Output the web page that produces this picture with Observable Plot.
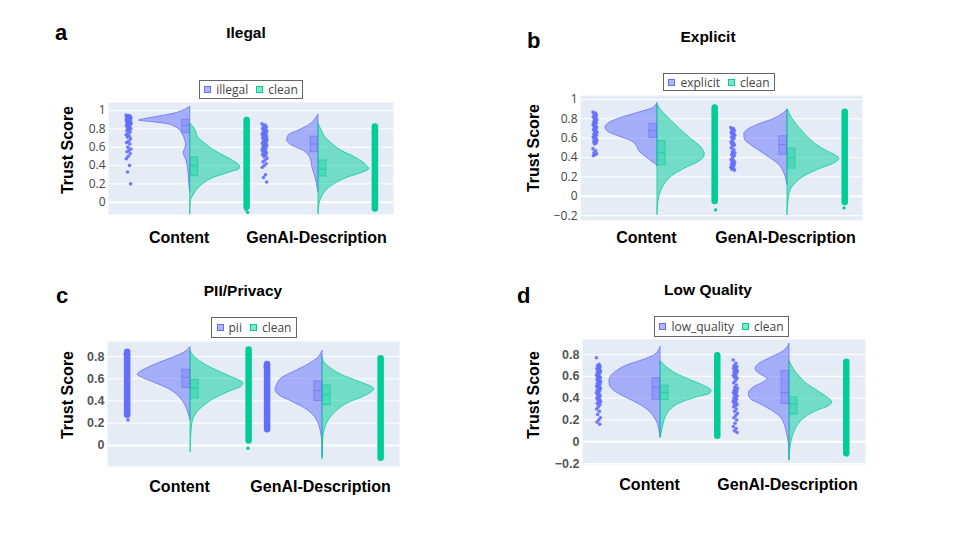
<!DOCTYPE html>
<html>
<head>
<meta charset="utf-8">
<script src="https://cdn.jsdelivr.net/npm/d3@7"></script>
<script src="https://cdn.jsdelivr.net/npm/@observablehq/plot@0.6"></script>
<style>
html, body { margin: 0; padding: 0; background: #fff; }
#page { position: relative; width: 960px; height: 540px; overflow: hidden; background: #fff; }
.panel { position: absolute; }
.legend { position: absolute; box-sizing: border-box; border: 1px solid #666; background: #fff;
  display: flex; align-items: center; justify-content: center; font: 12px "Open Sans", sans-serif; color: #444; white-space: nowrap; }
.legend .item { display: flex; align-items: center; margin: 0 4px; }
.legend .sw { width: 7px; height: 7px; box-sizing: border-box; border: 1px solid; margin-right: 5px; }
#overlay { position: absolute; left: 0; top: 0; pointer-events: none; }
</style>
</head>
<body>
<div id="page"></div>
<script>
// ---------------- data ----------------
const categories = ["Content", "GenAI-Description"];
const panelLetters = ["a", "b", "c", "d"];
const panelTitles = ["Ilegal", "Explicit", "PII/Privacy", "Low Quality"];
const flaggedNames = ["illegal", "explicit", "pii", "low_quality"];
const cleanName = "clean";
const yLabel = "Trust Score";

const yTicksA = [0, 0.2, 0.4, 0.6, 0.8, 1];
const yTicksB = [-0.2, 0, 0.2, 0.4, 0.6, 0.8, 1];
const yTicksC = [0, 0.2, 0.4, 0.6, 0.8];
const yTicksD = [-0.2, 0, 0.2, 0.4, 0.6, 0.8];

// violin half profiles: [trust score, relative density]
const violinIllegalContent = [[0.11,0],[0.15,0.01],[0.27,0.025],[0.38,0.045],[0.45,0.07],[0.5,0.11],[0.54,0.13],[0.58,0.1],[0.63,0.08],[0.68,0.1],[0.745,0.15],[0.78,0.19],[0.82,0.29],[0.855,0.48],[0.873,0.74],[0.89,1.0],[0.91,0.85],[0.927,0.68],[0.964,0.32],[1.0,0.13],[1.03,0.03],[1.04,0]];
const violinIllegalGenAI = [[0.11,0],[0.2,0.03],[0.31,0.08],[0.38,0.12],[0.455,0.14],[0.51,0.19],[0.56,0.29],[0.62,0.52],[0.67,0.61],[0.73,0.58],[0.78,0.39],[0.836,0.19],[0.89,0.08],[0.956,0]];
const violinCleanContentA = [[-0.13,0],[0.02,0.013],[0.055,0.045],[0.13,0.13],[0.2,0.26],[0.27,0.48],[0.33,0.81],[0.36,0.96],[0.39,0.97],[0.44,0.87],[0.49,0.71],[0.56,0.48],[0.64,0.29],[0.71,0.15],[0.78,0.11],[0.86,0]];
const violinCleanGenAIA = [[-0.13,0],[-0.02,0.02],[0.055,0.065],[0.13,0.16],[0.2,0.32],[0.27,0.58],[0.33,0.9],[0.36,0.99],[0.42,0.9],[0.49,0.71],[0.56,0.45],[0.64,0.26],[0.71,0.13],[0.78,0.065],[0.855,0]];

const violinExplicitContent = [[0.31,0],[0.33,0.03],[0.36,0.11],[0.414,0.24],[0.466,0.35],[0.52,0.4],[0.57,0.5],[0.62,0.75],[0.666,0.95],[0.707,1.0],[0.76,0.92],[0.81,0.69],[0.862,0.37],[0.914,0.08],[0.965,0]];
const violinExplicitGenAI = [[0.12,0],[0.19,0.03],[0.26,0.08],[0.33,0.17],[0.397,0.34],[0.466,0.53],[0.535,0.72],[0.586,0.82],[0.64,0.83],[0.69,0.75],[0.74,0.56],[0.79,0.3],[0.845,0.1],[0.896,0]];
const violinCleanContentB = [[-0.19,0],[-0.017,0.03],[0.05,0.07],[0.12,0.135],[0.207,0.28],[0.29,0.54],[0.36,0.81],[0.43,0.91],[0.5,0.85],[0.6,0.63],[0.707,0.41],[0.81,0.21],[0.88,0.085],[0.95,0]];
const violinCleanGenAIB = [[-0.19,0],[-0.05,0.02],[0.05,0.05],[0.12,0.135],[0.19,0.28],[0.276,0.6],[0.345,0.92],[0.39,1.0],[0.414,0.95],[0.466,0.76],[0.535,0.55],[0.6,0.41],[0.67,0.29],[0.74,0.18],[0.81,0.085],[0.9,0]];

const violinPiiContent = [[0.227,0],[0.258,0.02],[0.318,0.06],[0.394,0.14],[0.455,0.25],[0.515,0.44],[0.56,0.66],[0.606,0.9],[0.636,1.0],[0.65,0.98],[0.697,0.81],[0.742,0.59],[0.788,0.34],[0.833,0.125],[0.885,0]];
const violinPiiGenAI = [[-0.106,0],[0.03,0.006],[0.12,0.03],[0.212,0.09],[0.273,0.175],[0.333,0.33],[0.394,0.58],[0.455,0.83],[0.5,0.89],[0.545,0.86],[0.606,0.77],[0.667,0.52],[0.727,0.27],[0.79,0.08],[0.85,0]];
const violinCleanContentC = [[-0.06,0],[0.06,0.01],[0.18,0.03],[0.242,0.06],[0.303,0.14],[0.364,0.28],[0.424,0.47],[0.485,0.75],[0.53,0.97],[0.56,1.0],[0.59,0.9],[0.62,0.75],[0.667,0.53],[0.727,0.28],[0.79,0.09],[0.85,0]];
const violinCleanGenAIC = [[-0.12,0],[0.06,0.015],[0.167,0.06],[0.242,0.14],[0.318,0.29],[0.38,0.48],[0.44,0.79],[0.485,0.95],[0.51,0.98],[0.53,0.92],[0.576,0.67],[0.636,0.36],[0.7,0.14],[0.757,0.02],[0.8,0]];

const violinLowQualityContent = [[0.04,0],[0.1,0.02],[0.162,0.05],[0.223,0.12],[0.284,0.23],[0.346,0.42],[0.407,0.68],[0.468,0.9],[0.514,0.98],[0.56,0.99],[0.605,0.95],[0.65,0.84],[0.7,0.65],[0.74,0.39],[0.8,0.1],[0.87,0]];
const violinLowQualityGenAI = [[-0.17,0],[-0.02,0.013],[0.07,0.045],[0.162,0.1],[0.223,0.17],[0.284,0.34],[0.346,0.57],[0.39,0.75],[0.437,0.79],[0.5,0.69],[0.544,0.5],[0.575,0.43],[0.62,0.57],[0.667,0.66],[0.713,0.59],[0.774,0.34],[0.835,0.1],[0.9,0]];
const violinCleanContentD = [[0.04,0],[0.07,0.02],[0.147,0.05],[0.223,0.1],[0.284,0.18],[0.346,0.35],[0.407,0.71],[0.443,0.97],[0.468,0.99],[0.514,0.84],[0.56,0.61],[0.62,0.32],[0.68,0.13],[0.74,0]];
const violinCleanGenAID = [[-0.17,0],[-0.02,0.03],[0.07,0.08],[0.162,0.18],[0.223,0.31],[0.284,0.54],[0.33,0.78],[0.36,0.83],[0.407,0.73],[0.468,0.54],[0.53,0.34],[0.59,0.21],[0.667,0.08],[0.74,0]];

// boxes: [q1, median, q3] for Content, GenAI-Description
const boxIllegal = [[0.753,0.836,0.898],[0.545,0.636,0.716]];
const boxCleanA = [[0.284,0.40,0.49],[0.28,0.36,0.455]];
const boxExplicit = [[0.603,0.68,0.748],[0.43,0.535,0.62]];
const boxCleanB = [[0.32,0.45,0.57],[0.286,0.397,0.493]];
const boxPii = [[0.515,0.612,0.68],[0.4,0.494,0.576]];
const boxCleanC = [[0.424,0.515,0.59],[0.364,0.455,0.54]];
const boxLowQuality = [[0.385,0.5,0.584],[0.346,0.45,0.65]];
const boxCleanD = [[0.382,0.45,0.514],[0.248,0.346,0.407]];

// individual points (trust scores)
const pointsIllegalContent = [0.95,0.945,0.94,0.935,0.93,0.928,0.925,0.92,0.918,0.915,0.91,0.905,0.9,0.898,0.895,0.89,0.885,0.88,0.875,0.87,0.865,0.86,0.855,0.85,0.845,0.84,0.83,0.82,0.81,0.8,0.79,0.78,0.765,0.75,0.735,0.72,0.71,0.69,0.665,0.65,0.635,0.6,0.58,0.565,0.55,0.53,0.5,0.475,0.4,0.33,0.2];
const pointsIllegalGenAI = [0.855,0.84,0.83,0.82,0.81,0.8,0.79,0.78,0.775,0.77,0.76,0.75,0.745,0.74,0.73,0.72,0.715,0.71,0.7,0.69,0.685,0.68,0.67,0.66,0.655,0.65,0.64,0.63,0.625,0.62,0.61,0.6,0.59,0.58,0.57,0.56,0.55,0.54,0.53,0.52,0.51,0.5,0.48,0.46,0.44,0.42,0.4,0.38,0.3,0.27,0.22];
const pointsExplicitContent = [0.87,0.86,0.85,0.84,0.83,0.82,0.81,0.8,0.79,0.78,0.77,0.76,0.75,0.74,0.73,0.72,0.71,0.7,0.69,0.68,0.67,0.66,0.65,0.64,0.63,0.62,0.61,0.6,0.59,0.58,0.57,0.56,0.55,0.54,0.49,0.47,0.45,0.44,0.43,0.42];
const pointsExplicitGenAI = [0.71,0.7,0.69,0.68,0.67,0.66,0.65,0.64,0.63,0.62,0.61,0.6,0.58,0.56,0.55,0.54,0.53,0.52,0.5,0.48,0.46,0.45,0.44,0.43,0.42,0.4,0.38,0.37,0.36,0.35,0.34,0.33,0.32,0.31,0.3,0.29,0.28,0.27];
const pointsPiiContent = [0.82,0.81,0.31,0.3,0.29,0.28,0.23];
const pointsPiiGenAI = [0.71,0.7,0.18,0.17,0.16];
const pointsLowQualityContent = [0.77,0.71,0.7,0.69,0.68,0.67,0.665,0.66,0.65,0.64,0.635,0.63,0.62,0.61,0.6,0.595,0.59,0.58,0.57,0.565,0.56,0.55,0.54,0.535,0.53,0.52,0.51,0.505,0.5,0.49,0.48,0.475,0.47,0.46,0.45,0.44,0.43,0.42,0.41,0.4,0.39,0.38,0.37,0.36,0.35,0.34,0.32,0.3,0.28,0.25,0.22,0.2,0.18,0.16];
const pointsLowQualityGenAI = [0.75,0.72,0.7,0.69,0.68,0.675,0.67,0.66,0.65,0.645,0.64,0.63,0.62,0.61,0.6,0.59,0.58,0.56,0.54,0.52,0.5,0.49,0.48,0.47,0.46,0.455,0.45,0.44,0.43,0.42,0.41,0.4,0.39,0.38,0.37,0.36,0.35,0.34,0.33,0.32,0.3,0.28,0.26,0.24,0.22,0.2,0.17,0.14,0.12,0.1,0.085];

// dense point strips: [min, max] for Content, GenAI-Description
const densePii = [[0.3, 0.81], [0.17, 0.7]];
const denseCleanA = [[-0.02, 0.855], [-0.04, 0.785]];
const denseCleanB = [[-0.02, 0.88], [-0.03, 0.835]];
const denseCleanC = [[0.07, 0.83], [-0.085, 0.75]];
const denseCleanD = [[0.08, 0.76], [-0.08, 0.7]];
// sparse tail points beyond the dense clean strips
const tailCleanA = [[-0.05, -0.08, -0.11], [-0.055]];
const tailCleanB = [[-0.04, -0.06, -0.14], [-0.05, -0.12]];
const tailCleanC = [[0.05, -0.025], [0.79, -0.1]];
const tailCleanD = [[0.07], [-0.12]];

// ---------------- layout / style ----------------
const BLUE = "#636efa", GREEN = "#00cc96";
const HALF = 0.4;          // max half-width of a violin, in category units
const layout = [
  {frame: [108, 393, 102, 214], x: [-0.637, 1.585], y: [-0.134, 1.087], ticks: yTicksA, bold: false, labelDy: 28,
   ylab: [67, 150], title: [246, 33], letter: [55, 40], legend: [199, 80, 104, 19], stripW: 0.04},
  {frame: [580, 862, 95, 220], x: [-0.592, 1.577], y: [-0.25, 1.041], ticks: yTicksB, bold: false, labelDy: 22,
   ylab: [533, 148], title: [708, 37], letter: [527, 48], legend: [663, 73, 112, 18], stripW: 0.032},
  {frame: [107, 399, 341, 466], x: [-0.629, 1.583], y: [-0.189, 0.935], ticks: yTicksC, bold: true, labelDy: 25,
   ylab: [67, 395], title: [243, 291], letter: [56, 303], legend: [211, 317, 86, 21], stripW: 0.03},
  {frame: [582, 865, 339, 464], x: [-0.605, 1.589], y: [-0.209, 0.938], ticks: yTicksD, bold: true, labelDy: 25,
   ylab: [533, 395], title: [708, 290], letter: [517, 303], legend: [654, 316, 135, 21], stripW: 0.034}
];
const panels = [
  {flagV: [violinIllegalContent, violinIllegalGenAI], cleanV: [violinCleanContentA, violinCleanGenAIA],
   flagBox: boxIllegal, cleanBox: boxCleanA, flagPts: [pointsIllegalContent, pointsIllegalGenAI], flagDense: null,
   cleanDense: denseCleanA, cleanTail: tailCleanA},
  {flagV: [violinExplicitContent, violinExplicitGenAI], cleanV: [violinCleanContentB, violinCleanGenAIB],
   flagBox: boxExplicit, cleanBox: boxCleanB, flagPts: [pointsExplicitContent, pointsExplicitGenAI], flagDense: null,
   cleanDense: denseCleanB, cleanTail: tailCleanB},
  {flagV: [violinPiiContent, violinPiiGenAI], cleanV: [violinCleanContentC, violinCleanGenAIC],
   flagBox: boxPii, cleanBox: boxCleanC, flagPts: [pointsPiiContent, pointsPiiGenAI], flagDense: densePii,
   cleanDense: denseCleanC, cleanTail: tailCleanC},
  {flagV: [violinLowQualityContent, violinLowQualityGenAI], cleanV: [violinCleanContentD, violinCleanGenAID],
   flagBox: boxLowQuality, cleanBox: boxCleanD, flagPts: [pointsLowQualityContent, pointsLowQualityGenAI], flagDense: null,
   cleanDense: denseCleanD, cleanTail: tailCleanD}
];
const flagStripPos = [-0.48, 0.58];
const cleanStripPos = [0.44, 1.44];
const labelDx = [-11, -2];
const ML = 45, MR = 5, MT = 5, MB = 40;

const fmt = d => (d < 0 ? "\u2212" : "") + String(Math.abs(d));
const jit = i => ((i * 0.6180339887) % 1) - 0.5;

const page = document.getElementById("page");

panels.forEach((p, k) => {
  const L = layout[k];
  const [fx0, fx1, fy0, fy1] = L.frame;
  const marks = [
    Plot.frame({fill: "#e5ecf6", stroke: "none"}),
    Plot.gridY(L.ticks, {stroke: "#fff", strokeOpacity: 1, strokeWidth: 1}),
    Plot.ruleY([0], {stroke: "#fff", strokeWidth: 2}),
    Plot.axisY(L.ticks, {tickSize: 0, tickPadding: 3, tickFormat: fmt, label: null,
      fontSize: L.bold ? 12.5 : 12, fontWeight: L.bold ? "bold" : "normal",
      fontFamily: L.bold ? "Liberation Sans, Arial, sans-serif" : "Open Sans, sans-serif",
      fill: L.bold ? "#555" : "#444"})
  ];
  // violins + boxes
  [0, 1].forEach(c => {
    marks.push(Plot.areaX(p.flagV[c], {y: d => d[0], x1: () => c, x2: d => c - d[1] * HALF, curve: "monotone-y",
      fill: BLUE, fillOpacity: 0.5, stroke: BLUE, strokeWidth: 1, strokeOpacity: 0.75}));
  });
  [0, 1].forEach(c => {
    marks.push(Plot.areaX(p.cleanV[c], {y: d => d[0], x1: () => c, x2: d => c + d[1] * HALF, curve: "monotone-y",
      fill: GREEN, fillOpacity: 0.5, stroke: GREEN, strokeWidth: 1, strokeOpacity: 0.75}));
  });
  [0, 1].forEach(c => {
    marks.push(Plot.rect([p.flagBox[c]], {x1: () => c - 0.062, x2: () => c - 0.004, y1: d => d[0], y2: d => d[2],
      fill: BLUE, fillOpacity: 0.3, stroke: BLUE, strokeOpacity: 0.55, strokeWidth: 1}));
    marks.push(Plot.ruleY([p.flagBox[c]], {y: d => d[1], x1: () => c - 0.062, x2: () => c - 0.004, stroke: BLUE, strokeOpacity: 0.6}));
    marks.push(Plot.rect([p.cleanBox[c]], {x1: () => c + 0.004, x2: () => c + 0.062, y1: d => d[0], y2: d => d[2],
      fill: GREEN, fillOpacity: 0.3, stroke: GREEN, strokeOpacity: 0.55, strokeWidth: 1}));
    marks.push(Plot.ruleY([p.cleanBox[c]], {y: d => d[1], x1: () => c + 0.004, x2: () => c + 0.062, stroke: GREEN, strokeOpacity: 0.6}));
  });
  // strips
  [0, 1].forEach(c => {
    const fp = flagStripPos[c], cp = cleanStripPos[c];
    if (p.flagDense) {
      marks.push(Plot.ruleX([p.flagDense[c]], {x: () => fp, y1: d => d[0], y2: d => d[1], stroke: BLUE,
        strokeWidth: 6.5, strokeLinecap: "round", insetTop: 3.2, insetBottom: 3.2}));
    }
    marks.push(Plot.dot(p.flagPts[c], {x: (d, i) => fp + jit(i) * L.stripW, y: d => d, r: 1.8, fill: BLUE, fillOpacity: 0.9}));
    marks.push(Plot.ruleX([p.cleanDense[c]], {x: () => cp, y1: d => d[0], y2: d => d[1], stroke: GREEN,
      strokeWidth: 6.5, strokeLinecap: "round", insetTop: 3.2, insetBottom: 3.2}));
    marks.push(Plot.dot(p.cleanTail[c], {x: (d, i) => cp + jit(i + 1) * 0.02, y: d => d, r: 1.7, fill: GREEN}));
  });
  // category labels
  [0, 1].forEach(c => {
    marks.push(Plot.text([categories[c]], {x: () => c, frameAnchor: "bottom", dy: L.labelDy, dx: labelDx[c], text: d => d,
      fontSize: 16, fontWeight: "bold", fontFamily: "Liberation Sans, Arial, sans-serif", fill: "#000"}));
  });

  const svg = Plot.plot({
    width: (fx1 - fx0) + ML + MR,
    height: (fy1 - fy0) + MT + MB,
    marginLeft: ML, marginRight: MR, marginTop: MT, marginBottom: MB,
    x: {domain: L.x, axis: null},
    y: {domain: L.y, axis: null},
    style: {background: "transparent", overflow: "visible", color: "#444"},
    marks
  });
  const holder = document.createElement("div");
  holder.className = "panel";
  holder.style.left = (fx0 - ML) + "px";
  holder.style.top = (fy0 - MT) + "px";
  holder.appendChild(svg);
  page.appendChild(holder);

  // legend
  const lg = document.createElement("div");
  lg.className = "legend";
  const [lx, ly, lw, lh] = L.legend;
  Object.assign(lg.style, {left: lx + "px", top: ly + "px", width: lw + "px", height: lh + "px"});
  [[flaggedNames[k], BLUE], [cleanName, GREEN]].forEach(([name, col]) => {
    const it = document.createElement("div");
    it.className = "item";
    const sw = document.createElement("span");
    sw.className = "sw";
    sw.style.background = col + "80";
    sw.style.borderColor = col;
    const tx = document.createElement("span");
    tx.textContent = name;
    it.appendChild(sw); it.appendChild(tx);
    lg.appendChild(it);
  });
  page.appendChild(lg);
});

// overlay texts: panel letters, titles, y-axis labels
const ov = d3.select(page).append("svg").attr("id", "overlay").attr("width", 960).attr("height", 540)
  .style("font-family", "Liberation Sans, Arial, sans-serif").style("font-weight", "bold");
layout.forEach((L, k) => {
  ov.append("text").attr("x", L.letter[0]).attr("y", L.letter[1]).attr("font-size", 22).text(panelLetters[k]);
  ov.append("text").attr("x", L.title[0]).attr("y", L.title[1]).attr("dy", "0.35em").attr("text-anchor", "middle")
    .attr("font-size", 15.5).text(panelTitles[k]);
  ov.append("text").attr("transform", `translate(${L.ylab[0]},${L.ylab[1]}) rotate(-90)`).attr("dy", "0.35em")
    .attr("text-anchor", "middle").attr("font-size", 16).text(yLabel);
});
</script>
</body>
</html>
